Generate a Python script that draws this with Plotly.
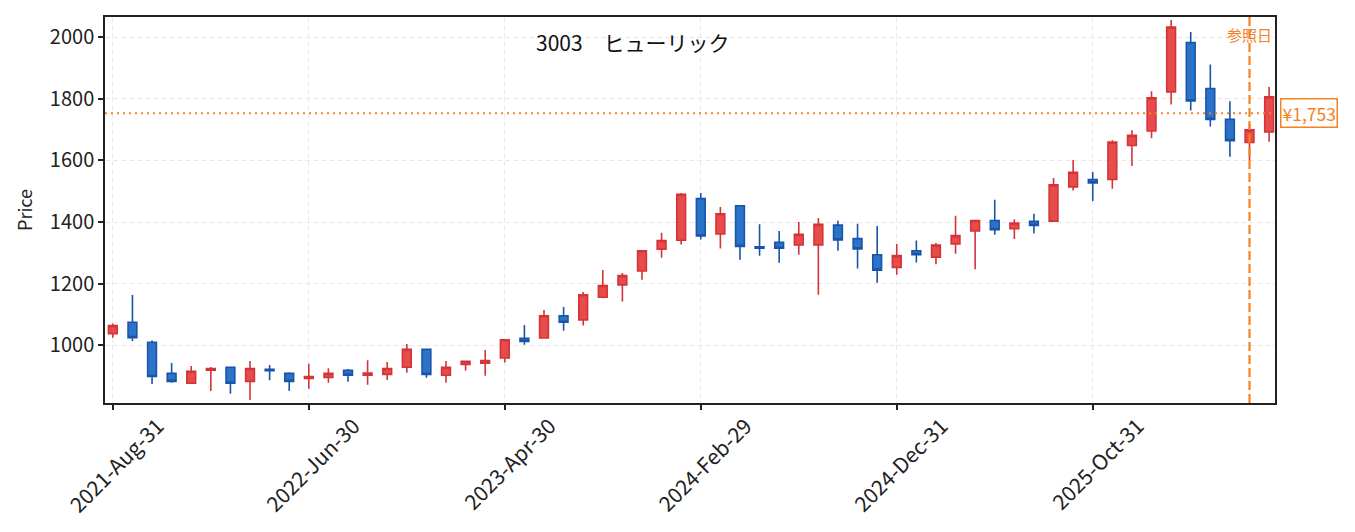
import pandas as pd
import plotly.graph_objects as go

# ---- data (monthly candles) ----
dates = [d.strftime("%Y-%b-%d") for d in pd.date_range("2021-08-31", periods=60, freq="ME")]

opens = [1038, 1075, 1010, 909, 877, 919, 929, 883, 922, 909,
         893, 896, 919, 903, 906, 929, 987, 903, 938, 942,
         959, 1023, 1024, 1096, 1082, 1156, 1196, 1241, 1312, 1341,
         1476, 1361, 1453, 1320, 1334, 1326, 1326, 1390, 1346, 1294,
         1253, 1307, 1286, 1329, 1371, 1405, 1378, 1402, 1403, 1514,
         1538, 1538, 1648, 1695, 1822, 1982, 1833, 1733, 1658, 1692]
highs = [1071, 1163, 1016, 943, 933, 930, 929, 949, 936, 913,
         940, 926, 923, 952, 946, 1004, 987, 949, 948, 985,
         1018, 1066, 1115, 1124, 1173, 1244, 1235, 1307, 1365, 1494,
         1494, 1449, 1453, 1393, 1371, 1400, 1413, 1404, 1394, 1387,
         1329, 1340, 1332, 1420, 1405, 1472, 1409, 1427, 1543, 1601,
         1562, 1665, 1698, 1824, 2055, 2016, 1911, 1792, 1720, 1838]
lows = [1025, 1014, 875, 879, 877, 852, 843, 823, 887, 852,
        859, 879, 882, 872, 888, 911, 895, 879, 918, 901,
        944, 1002, 1024, 1047, 1064, 1153, 1142, 1213, 1284, 1327,
        1343, 1314, 1278, 1291, 1268, 1294, 1164, 1307, 1249, 1203,
        1229, 1269, 1263, 1297, 1247, 1359, 1345, 1363, 1403, 1502,
        1468, 1508, 1582, 1672, 1781, 1762, 1710, 1612, 1600, 1660]
closes = [1064, 1025, 899, 883, 916, 925, 877, 925, 918, 883,
          899, 909, 903, 910, 925, 987, 906, 929, 948, 951,
          1018, 1013, 1096, 1075, 1164, 1194, 1226, 1307, 1340, 1490,
          1355, 1427, 1321, 1315, 1315, 1360, 1393, 1342, 1313, 1244,
          1291, 1294, 1325, 1356, 1405, 1375, 1397, 1389, 1521, 1561,
          1527, 1659, 1681, 1803, 2032, 1793, 1733, 1664, 1699, 1806]

ticker_title = "3003\u2003ヒューリック"
ref_index = 58
ref_price = 1753
ref_label = "参照日"
price_label = "¥1,753"
tick_dates = dates[::10]
y_ticks = [1000, 1200, 1400, 1600, 1800, 2000]

FONT = "Noto Sans CJK JP"
ORANGE = "#f5821f"

fig = go.Figure()
fig.add_trace(go.Candlestick(
    x=dates, open=opens, high=highs, low=lows, close=closes,
    increasing=dict(fillcolor="#e84c4a", line=dict(color="#d3343a", width=1.6)),
    decreasing=dict(fillcolor="#2b73c9", line=dict(color="#1a54a8", width=1.6)),
    whiskerwidth=0,
    showlegend=False,
))

# reference lines
fig.add_shape(type="line", xref="x", yref="paper", x0=dates[ref_index], x1=dates[ref_index],
              y0=0, y1=1, line=dict(color=ORANGE, width=2.2, dash="9px,4px"))
fig.add_shape(type="line", xref="paper", yref="y", x0=0, x1=1, y0=ref_price, y1=ref_price,
              line=dict(color=ORANGE, width=2, dash="2px,4px"))

fig.add_annotation(x=dates[ref_index], y=2000, xref="x", yref="y", text=ref_label,
                   showarrow=False, font=dict(family=FONT, size=15, color=ORANGE),
                   xanchor="center", yanchor="middle", yshift=3)
fig.add_annotation(x=1.004, y=ref_price, xref="paper", yref="y", text=price_label,
                   showarrow=False, font=dict(family=FONT, size=17.5, color=ORANGE),
                   xanchor="left", yanchor="middle", bgcolor="white",
                   bordercolor=ORANGE, borderwidth=1.5, borderpad=1)
fig.add_annotation(x=0.451, y=0.936, xref="paper", yref="paper", text=ticker_title,
                   showarrow=False, font=dict(family=FONT, size=21, color="#111111"),
                   xanchor="center", yanchor="middle")
fig.add_annotation(x=0, y=0.5, xref="paper", yref="paper", text="Price",
                   textangle=-90, showarrow=False, xshift=-81,
                   font=dict(family=FONT, size=18, color="#222222"),
                   xanchor="center", yanchor="middle")

fig.update_layout(
    width=1355, height=532,
    margin=dict(l=97, r=88, t=7, b=137),
    paper_bgcolor="white", plot_bgcolor="white",
    font=dict(family=FONT, size=20, color="#222222"),
    boxgap=0.36,
)
fig.update_xaxes(
    type="category", rangeslider_visible=False,
    range=[-0.4, 59.3],
    tickmode="array", tickvals=tick_dates, ticktext=tick_dates,
    tickangle=-45, ticks="outside", ticklen=5, tickwidth=1.5, tickcolor="#222222",
    ticklabelshift=45, ticklabelstandoff=-4,
    showline=True, linecolor="#222222", linewidth=1.5, mirror=True,
    showgrid=True, gridcolor="#e8e8e8", gridwidth=1, griddash="5px,3px",
    tickfont=dict(family=FONT, size=21),
)
fig.update_yaxes(
    range=[813, 2065],
    tickmode="array", tickvals=y_ticks,
    ticks="outside", ticklen=5, tickwidth=1.5, tickcolor="#222222",
    showline=True, linecolor="#222222", linewidth=1.5, mirror=True,
    showgrid=True, gridcolor="#e8e8e8", gridwidth=1, griddash="5px,3px",
    zeroline=False,
    tickfont=dict(family=FONT, size=20),
)

fig.write_html("out.html")
